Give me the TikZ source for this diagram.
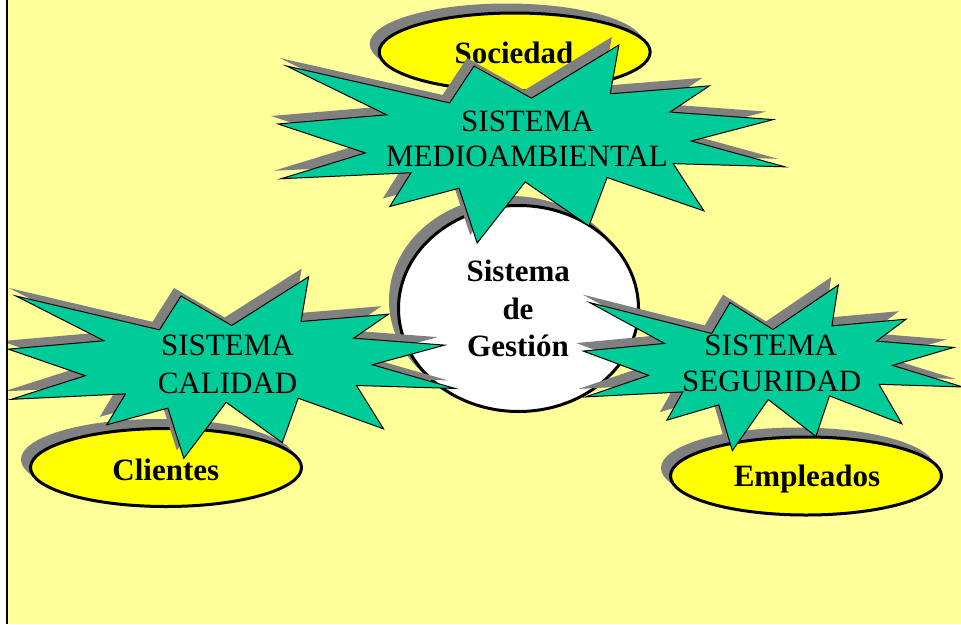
\documentclass[tikz,border=0pt]{standalone}
\usepackage{fontspec}
\setmainfont{Liberation Serif}
\definecolor{bgyellow}{HTML}{FFFF99}
\definecolor{ovalyellow}{HTML}{FFFF00}
\definecolor{burstgreen}{HTML}{00CC99}
\definecolor{shadowgray}{HTML}{808080}
\tikzset{
  seal/.pic={\path[pic actions] (50,26.852) -- (67.231,0) -- (65.532,24.653) -- (85.093,20.634) -- (77.324,33.866) -- (97.671,37.671) -- (81.514,48.495) -- (100,61.528) -- (77.949,59.917) -- (84.005,83.773) -- (64.907,66.931) -- (61.329,91.375) -- (48.759,69.144) -- (39.282,100) -- (35.718,72.347) -- (22.046,81.560) -- (26.236,64.523) -- (0.625,67.532) -- (17.231,54.514) -- (0,39.884) -- (21.421,35.264) -- (1.713,10.625) -- (33.852,29.259) -- (38.667,10.625) -- cycle;},
  bursttext/.style={anchor=base,inner sep=0pt,font=\fontsize{31}{36}\selectfont},
  ovaltext/.style={anchor=base,inner sep=0pt,font=\fontsize{31}{36}\selectfont\bfseries},
  ovalline/.style={draw=black,line width=3pt},
}
\newcommand\starburst[4]{%
  \pic[shift={({#1-7},{#2-8})},xscale=#3/100,yscale=#4/100,fill=shadowgray] {seal};
  \pic[shift={(#1,#2)},xscale=#3/100,yscale=#4/100,fill=burstgreen,draw=black,line width=1pt,line join=miter] {seal};}
\newcommand\yellowoval[4]{%
  \fill[shadowgray] ({#1-8},{#2-8}) ellipse [x radius={#3+1.5}, y radius={#4+1.5}];
  \filldraw[fill=ovalyellow,ovalline] (#1,#2) ellipse [x radius=#3, y radius=#4];}
\begin{document}
\begin{tikzpicture}[x=1pt,y=-1pt]
\useasboundingbox (0,0) rectangle (961,624);
\fill[bgyellow] (0,0) rectangle (961,624);
% ovals
\yellowoval{514.7}{52}{135.5}{39}
\node[ovaltext] (soc) at (514,63.3) {Sociedad};
\yellowoval{166}{467.5}{135.5}{39}
\node[ovaltext] (cli) at (165.8,480) {Clientes};
\yellowoval{806}{476}{135.5}{39}
\node[ovaltext] (emp) at (807,486.7) {Empleados};
% central circle
\fill[shadowgray] (510.5,300.5) ellipse [x radius=121.5, y radius=104.5];
\filldraw[fill=white,ovalline] (518.5,308.5) ellipse [x radius=120, y radius=103];
\node[ovaltext] (sg1) at (518.3,281.7) {Sistema};
\node[ovaltext] (sg2) at (518,319.3) {de};
\node[ovaltext] (sg3) at (518,356.7) {Gestión};
% starbursts
\starburst{278}{45}{507}{198}
\node[bursttext] (ma1) at (527.5,131.7) {SISTEMA};
\node[bursttext] (ma2) at (527,166.7) {MEDIOAMBIENTAL};
\starburst{8.3}{276.7}{446.7}{181.6}
\node[bursttext] (ca1) at (227.5,355) {SISTEMA};
\node[bursttext] (ca2) at (227.5,393.3) {CALIDAD};
\starburst{583.3}{285}{379.3}{165.7}
\node[bursttext] (se1) at (770.8,355) {SISTEMA};
\node[bursttext] (se2) at (771.7,391.7) {SEGURIDAD};
% left edge
\fill[white] (0,0) rectangle (6,624);
\draw[black,line width=2.5pt] (7,0) -- (7,624);
\end{tikzpicture}
\end{document}
